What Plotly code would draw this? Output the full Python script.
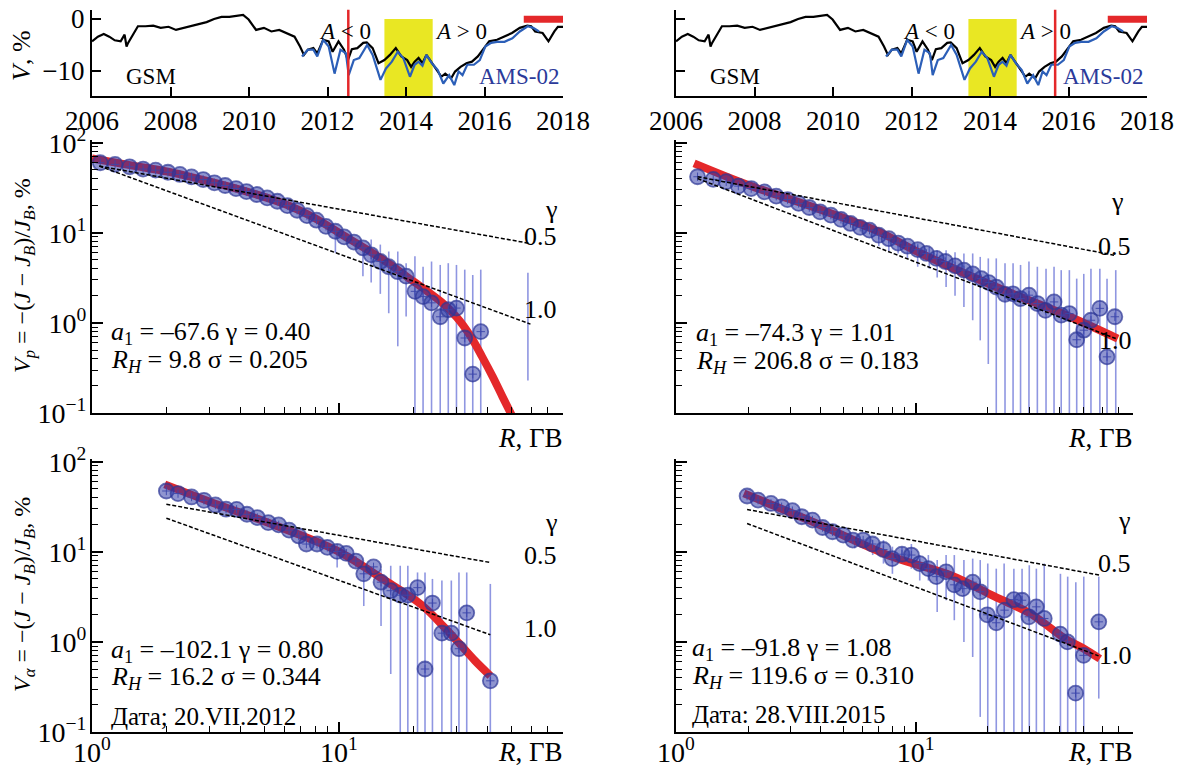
import plotly.graph_objects as go

# ---------------- time series (top row) ----------------
gsm_t = [2006.0, 2006.15, 2006.3, 2006.44, 2006.58, 2006.73, 2006.83, 2006.88, 2006.92, 2007.02,
         2007.17, 2007.36, 2007.56, 2007.75, 2007.95, 2008.14, 2008.34, 2008.53, 2008.72, 2008.92,
         2009.11, 2009.3, 2009.5, 2009.7, 2009.85, 2009.99, 2010.18, 2010.38, 2010.57, 2010.77,
         2010.96, 2011.16, 2011.3, 2011.4, 2011.5, 2011.64, 2011.74, 2011.89, 2012.03, 2012.13,
         2012.28, 2012.42, 2012.52, 2012.62, 2012.76, 2012.91, 2013.0, 2013.15, 2013.3, 2013.45,
         2013.59, 2013.74, 2013.88, 2014.03, 2014.13, 2014.22, 2014.32, 2014.42, 2014.52, 2014.61,
         2014.76, 2014.9, 2015.0, 2015.15, 2015.25, 2015.39, 2015.54, 2015.68, 2015.83, 2015.98,
         2016.12, 2016.32, 2016.51, 2016.7, 2016.9, 2017.09, 2017.19, 2017.29, 2017.48, 2017.63,
         2017.78, 2017.87, 2018.0]
gsm_v = [-4.3, -3.4, -2.9, -3.4, -4.1, -4.3, -3.0, -5.3, -4.6, -3.2,
         -1.4, -1.4, -1.3, -1.7, -1.5, -2.1, -1.7, -1.3, -0.9, -0.6,
         0.0, 0.4, 0.4, 0.6, 0.8, -0.1, -2.1, -1.7, -2.4, -2.1,
         -2.7, -3.4, -5.3, -6.9, -5.9, -5.6, -6.6, -4.0, -4.3, -6.3,
         -4.3, -5.9, -7.9, -5.8, -5.6, -4.6, -4.5, -5.6, -8.5, -7.9,
         -6.9, -5.6, -7.2, -7.9, -9.2, -8.2, -7.5, -8.5, -6.9, -7.9,
         -9.5, -11.1, -10.5, -11.4, -10.1, -9.2, -8.5, -8.2, -7.2, -5.6,
         -4.3, -4.0, -3.4, -2.7, -1.7, -1.3, -1.4, -2.4, -2.7, -4.3,
         -2.4, -1.5, -1.5]
ams_t = [2011.35, 2011.5, 2011.64, 2011.74, 2011.89, 2012.03, 2012.18, 2012.33, 2012.47, 2012.54,
         2012.67, 2012.81, 2013.01, 2013.15, 2013.35, 2013.49, 2013.64, 2013.79, 2013.93, 2014.1,
         2014.22, 2014.32, 2014.42, 2014.52, 2014.66, 2014.81, 2014.95, 2015.1, 2015.23, 2015.34,
         2015.44, 2015.56, 2015.73, 2015.88, 2016.02, 2016.17, 2016.32, 2016.51, 2016.71, 2016.9,
         2017.1, 2017.24, 2017.39]
ams_v = [-7.2, -5.9, -5.9, -7.2, -4.0, -5.3, -10.5, -5.9, -6.6, -10.8,
         -7.9, -7.5, -5.0, -6.9, -11.7, -9.5, -8.2, -6.3, -7.5, -11.1,
         -8.8, -8.2, -9.0, -6.9, -8.5, -9.8, -12.4, -10.8, -12.7, -10.1,
         -10.8, -8.8, -8.8, -7.9, -5.3, -4.6, -4.4, -4.4, -3.7, -2.4,
         -1.4, -1.7, -2.4]
year_ticks = [2006, 2008, 2010, 2012, 2014, 2016, 2018]
yellow_band = [2013.45, 2014.68]
red_bar = [2017.0, 2018.0]
event_dates = [2012.53, 2015.66]

# ---------------- protons, 20.VII.2012 ----------------
p12_R = [1.08, 1.24, 1.42, 1.61, 1.81, 2.03, 2.27, 2.53, 2.82, 3.13, 3.46, 3.83, 4.22, 4.65, 5.12,
         5.63, 6.18, 6.77, 7.42, 8.11, 8.86, 9.67, 10.5, 11.5, 12.5, 13.5, 14.7, 15.9, 17.3, 18.7,
         20.3, 21.9, 23.7, 25.7, 27.7, 29.9, 32.3, 34.8, 37.5]
p12_V = [59.9, 57.4, 54.0, 51.0, 49.6, 47.0, 44.4, 41.7, 39.0, 35.9, 33.5, 31.0, 28.7, 26.6, 24.4,
         22.4, 20.0, 17.8, 15.5, 13.8, 11.8, 10.4, 9.0, 7.9, 6.8, 5.7, 4.8, 4.2, 3.7, 3.3,
         2.24, 1.96, 1.67, 1.17, 1.40, 1.46, 0.68, 0.27, 0.80]
p12_eb_R = [9.67, 12.5, 13.5, 14.7, 15.9, 17.3, 18.7, 20.3, 21.9, 23.7, 25.7, 27.7, 29.9, 32.3, 34.8, 37.5, 58.2]
p12_eb_lo = [6.0, 3.3, 2.8, 2.1, 1.28, 0.55, 1.18, 0.01, 0.01, 0.01, 0.01, 0.01, 0.01, 0.01, 0.01, 0.01, 0.23]
p12_eb_hi = [11.8, 7.7, 8.4, 7.4, 6.2, 6.2, 4.6, 5.5, 4.2, 4.8, 4.4, 4.6, 4.4, 3.9, 3.4, 3.9, 3.6]
p12_fit_R = [1.0, 1.5, 2, 3, 4, 6, 8, 10, 13, 16, 19, 22, 26, 30, 34, 38, 42, 46, 50]
p12_fit_V = [67, 55, 48, 37, 30, 21, 14.5, 10, 6.5, 4.5, 3.2, 2.4, 1.7, 1.15, 0.72, 0.42, 0.25, 0.15, 0.095]
p12_g05_R, p12_g05_V = [1.07, 59.6], [55, 7.6]
p12_g10_R, p12_g10_V = [1.07, 59.6], [55, 0.97]

# ---------------- protons, 28.VIII.2015 ----------------
p15_R = [1.23, 1.43, 1.62, 1.82, 2.06, 2.34, 2.62, 2.92, 3.25, 3.6, 3.99, 4.43, 4.88, 5.35, 5.87,
         6.42, 7.02, 7.73, 8.45, 9.24, 10.2, 11.1, 12.2, 13.3, 14.6, 15.9, 17.3, 18.8, 20.2, 21.7,
         23.6, 25.5, 27.4, 29.7, 32.2, 34.8, 37.8, 40.5, 43.8, 47.0, 50.3, 53.9, 58.7, 62.9, 67.8]
p15_V = [41.9, 39.2, 36.9, 33.0, 31.0, 28.5, 25.5, 23.4, 21.2, 19.1, 17.1, 15.7, 14.1, 12.7, 11.5,
         10.7, 9.4, 8.6, 7.7, 7.1, 6.5, 5.9, 5.2, 4.8, 4.3, 3.85, 3.5, 3.1, 2.8, 2.5,
         2.08, 2.1, 1.86, 2.03, 1.64, 1.38, 1.71, 1.22, 1.27, 0.65, 0.83, 1.07, 1.45, 0.42, 1.17]
p15_eb_R = [7.02, 7.73, 8.45, 9.24, 10.2, 11.4, 12.3, 13.4, 14.6, 15.9, 17.3, 18.6, 20.1, 21.7, 23.6,
            25.5, 27.4, 29.7, 32.2, 35.0, 37.8, 40.5, 43.8, 47.0, 50.3, 53.9, 58.7, 62.9, 68.4]
p15_eb_lo = [7.1, 6.2, 5.9, 5.2, 4.2, 4.0, 3.2, 2.5, 2.0, 1.5, 1.07, 0.64, 0.35, 0.01, 0.01,
             0.01, 0.01, 0.01, 0.01, 0.01, 0.01, 0.01, 0.01, 0.01, 0.01, 0.01, 0.01, 0.01, 0.01]
p15_eb_hi = [9.2, 8.9, 8.3, 7.9, 7.6, 7.0, 6.4, 6.4, 6.1, 5.9, 5.9, 5.4, 5.2, 5.2, 4.6,
             4.6, 4.4, 4.8, 4.2, 4.0, 4.2, 3.85, 3.85, 3.1, 3.5, 4.0, 4.0, 3.1, 3.85]
p15_fit_R = [1.19, 2, 3.88, 7, 10, 21.7, 43, 69.7]
p15_fit_V = [59, 34, 18.6, 10.3, 6.3, 2.5, 1.2, 0.67]
p15_g05_R, p15_g05_V = [1.23, 67.3], [41.9, 5.65]
p15_g10_R, p15_g10_V = [1.23, 68.4], [40, 0.67]

# ---------------- alphas, 20.VII.2012 ----------------
a12_R = [2.0, 2.23, 2.53, 2.84, 3.16, 3.49, 3.85, 4.24, 4.67, 5.17, 5.7, 6.28, 6.87, 7.38, 8.15,
         8.97, 9.83, 10.7, 11.7, 12.6, 13.8, 14.8, 16.2, 17.7, 19.0, 20.8, 22.3, 23.9, 26.1, 28.5,
         30.6, 32.9, 41.0]
a12_V = [47.3, 44.3, 40.6, 37.3, 33.1, 29.7, 29.6, 26.1, 24.0, 21.1, 19.9, 17.4, 15.0, 12.2, 12.2,
         11.2, 10.1, 9.6, 7.9, 5.7, 6.8, 4.6, 3.7, 3.3, 3.3, 4.0, 0.5, 2.7, 1.25, 1.25,
         0.84, 2.1, 0.37]
a12_eb_R = [9.83, 10.7, 11.7, 12.6, 14.8, 16.2, 17.7, 19.0, 20.8, 22.3, 23.9, 26.1, 28.5, 30.6, 32.9, 41.0]
a12_eb_lo = [6.7, 8.7, 6.7, 2.5, 1.5, 0.44, 0.01, 0.01, 0.01, 0.01, 0.01, 0.01, 0.01, 0.01, 0.01, 0.01]
a12_eb_hi = [12.2, 10.7, 9.0, 6.4, 6.4, 7.0, 7.0, 7.0, 5.9, 5.9, 5.0, 4.8, 4.8, 5.9, 5.9, 4.4]
a12_fit_R = [1.97, 3, 5.17, 9.8, 15, 21.5, 26.7, 30.8, 35.5, 41]
a12_fit_V = [56, 36, 21, 10.3, 5.0, 2.6, 1.45, 0.95, 0.62, 0.42]
a12_g05_R, a12_g05_V = [2.0, 41.0], [33.7, 7.6]
a12_g10_R, a12_g10_V = [2.0, 41.0], [23.6, 1.2]

# ---------------- alphas, 28.VIII.2015 ----------------
a15_R = [1.98, 2.2, 2.49, 2.76, 3.06, 3.35, 3.71, 4.09, 4.5, 4.99, 5.47, 6.04, 6.6, 7.33, 7.98,
         8.77, 9.6, 10.4, 11.3, 12.2, 13.4, 14.5, 15.7, 17.3, 18.6, 19.9, 21.7, 23.5, 25.7, 27.8,
         29.7, 31.9, 34.4, 40.1, 43.0, 46.5, 50.2, 58.1]
a15_V = [41.6, 37.5, 34.4, 31.6, 28.6, 24.5, 22.5, 18.6, 16.7, 15.3, 13.5, 13.5, 12.2, 10.6, 8.4,
         9.4, 9.2, 7.4, 6.5, 5.3, 6.0, 4.3, 3.9, 4.6, 3.6, 2.0, 1.63, 2.25, 2.95, 2.9,
         1.9, 2.45, 1.82, 1.22, 1.0, 0.27, 0.71, 1.67]
a15_eb_R = [5.57, 6.62, 7.34, 8.0, 8.77, 9.6, 10.4, 11.3, 12.3, 13.4, 14.5, 15.9, 17.3, 18.6, 20.0,
            21.7, 23.4, 25.7, 27.8, 29.8, 31.9, 34.4, 40.2, 43.1, 46.6, 50.3, 58.1]
a15_eb_lo = [10.9, 9.2, 7.4, 5.7, 7.7, 6.5, 4.8, 4.8, 2.15, 2.9, 1.74, 1.0, 0.68, 0.147, 0.01,
             0.01, 0.01, 0.01, 0.01, 0.01, 0.01, 0.01, 0.01, 0.01, 0.01, 0.01, 0.235]
a15_eb_hi = [14.7, 13.5, 13.5, 11.4, 11.4, 12.2, 9.2, 9.2, 8.1, 9.2, 9.2, 8.1, 8.4, 8.1, 7.4,
             6.5, 7.4, 6.5, 6.5, 7.1, 6.5, 7.4, 5.7, 5.3, 4.6, 5.3, 5.3]
a15_fit_R = [1.92, 4, 8, 14, 21.3, 30, 42, 50, 58.7]
a15_fit_V = [44.5, 19.8, 8.8, 5.5, 3.2, 2.07, 1.09, 0.85, 0.65]
a15_g05_R, a15_g05_V = [1.98, 58.7], [29.5, 5.5]
a15_g10_R, a15_g10_V = [1.98, 58.0], [20.6, 0.7]

fit_texts = [
    ("<i>a</i><sub>1</sub> = –67.6 γ = 0.40", "<i>R<sub>H</sub></i> = 9.8 σ = 0.205", None),
    ("<i>a</i><sub>1</sub> = –74.3 γ = 1.01", "<i>R<sub>H</sub></i> = 206.8 σ = 0.183", None),
    ("<i>a</i><sub>1</sub> = –102.1 γ = 0.80", "<i>R<sub>H</sub></i> = 16.2 σ = 0.344", "Дата; 20.VII.2012"),
    ("<i>a</i><sub>1</sub> = –91.8 γ = 1.08", "<i>R<sub>H</sub></i> = 119.6 σ = 0.310", "Дата: 28.VIII.2015"),
]

# ---------------- styling / layout ----------------
W, H = 1180, 769
FONT = "Liberation Serif"
RED = "#e4282a"
BLUE_LINE = "#2c5fb8"
TEXT_BLUE = "#2b3a9a"
TXT = 26       # in-panel text
TICK = 28      # log tick labels
YEAR = 27      # year tick labels


def xd(a, b):
    return [a / W, b / W]


def yd(top, bottom):
    return [1 - bottom / H, 1 - top / H]


fig = go.Figure()

# top row panels
for k, (xa, ya) in enumerate([("x", "y"), ("x2", "y2")]):
    fig.add_trace(go.Scatter(x=gsm_t, y=gsm_v, mode="lines", line=dict(color="black", width=2.2),
                             xaxis=xa, yaxis=ya, showlegend=False))
    fig.add_trace(go.Scatter(x=ams_t, y=ams_v, mode="lines", line=dict(color=BLUE_LINE, width=2.2),
                             xaxis=xa, yaxis=ya, showlegend=False))
    fig.add_shape(type="rect", xref=xa, yref=ya, x0=yellow_band[0], x1=yellow_band[1], y0=-14.8, y1=0,
                  fillcolor="#e9e723", line_width=0, layer="below")
    fig.add_shape(type="rect", xref=xa, yref=ya, x0=red_bar[0], x1=red_bar[1], y0=-0.75, y1=0.6,
                  fillcolor=RED, line_width=0, layer="above")
    fig.add_shape(type="line", xref=xa, yref=ya, x0=event_dates[k], x1=event_dates[k], y0=-14.8, y1=1.8,
                  line=dict(color=RED, width=2.5), layer="above")
    fig.add_annotation(xref=xa, yref=ya, x=2007.5, y=-11, text="GSM", showarrow=False,
                       font=dict(family=FONT, size=23, color="black"))
    fig.add_annotation(xref=xa, yref=ya, x=2016.9, y=-11, text="AMS-02", showarrow=False,
                       font=dict(family=FONT, size=23, color=TEXT_BLUE))
    fig.add_annotation(xref=xa, yref=ya, x=2012.45, y=-2.5, text="<i>A</i> &lt; 0", showarrow=False,
                       font=dict(family=FONT, size=23, color="black"))
    fig.add_annotation(xref=xa, yref=ya, x=2015.4, y=-2.5, text="<i>A</i> &gt; 0", showarrow=False,
                       font=dict(family=FONT, size=23, color="black"))

panels = [
    ("x3", "y3", p12_R, p12_V, p12_eb_R, p12_eb_lo, p12_eb_hi, p12_fit_R, p12_fit_V,
     p12_g05_R, p12_g05_V, p12_g10_R, p12_g10_V, 0.07, -0.115, [(1.86, 1.258), (1.814, 0.96), (1.814, 0.145)]),
    ("x4", "y4", p15_R, p15_V, p15_eb_R, p15_eb_lo, p15_eb_hi, p15_fit_R, p15_fit_V,
     p15_g05_R, p15_g05_V, p15_g10_R, p15_g10_V, 0.075, -0.119, [(1.843, 1.344), (1.828, 0.844), (1.836, -0.19)]),
    ("x5", "y5", a12_R, a12_V, a12_eb_R, a12_eb_lo, a12_eb_hi, a12_fit_R, a12_fit_V,
     a12_g05_R, a12_g05_V, a12_g10_R, a12_g10_V, 0.07, -0.096, [(1.86, 1.325), (1.814, 0.956), (1.814, 0.144)]),
    ("x6", "y6", a15_R, a15_V, a15_eb_R, a15_eb_lo, a15_eb_hi, a15_fit_R, a15_fit_V,
     a15_g05_R, a15_g05_V, a15_g10_R, a15_g10_V, 0.06, -0.074, [(1.873, 1.352), (1.828, 0.87), (1.836, -0.148)]),
]

for i, (xa, ya, R, V, ebR, eblo, ebhi, fR, fV, g5R, g5V, g1R, g1V, tx, ty, glab) in enumerate(panels):
    sx, sy = [], []
    for r, lo, hi in zip(ebR, eblo, ebhi):
        sx += [r, r, None]
        sy += [lo, hi, None]
    fig.add_trace(go.Scatter(x=sx, y=sy, mode="lines", line=dict(color="rgba(105,115,215,0.75)", width=1.6),
                             xaxis=xa, yaxis=ya, showlegend=False))
    fig.add_trace(go.Scatter(x=fR, y=fV, mode="lines", line=dict(color=RED, width=8, shape="spline"),
                             xaxis=xa, yaxis=ya, showlegend=False))
    fig.add_trace(go.Scatter(x=R, y=V, mode="markers",
                             marker=dict(symbol="circle", size=15, color="rgba(40,52,165,0.52)",
                                         line=dict(color="rgba(45,55,150,0.7)", width=1.8)),
                             xaxis=xa, yaxis=ya, showlegend=False))
    fig.add_trace(go.Scatter(x=R, y=V, mode="markers",
                             marker=dict(symbol="cross-thin", size=6,
                                         line=dict(color="rgba(60,70,170,0.9)", width=1)),
                             xaxis=xa, yaxis=ya, showlegend=False))
    for gR, gV in ((g5R, g5V), (g1R, g1V)):
        fig.add_trace(go.Scatter(x=gR, y=gV, mode="lines", line=dict(color="black", width=1.5, dash="4px,2px"),
                                 xaxis=xa, yaxis=ya, showlegend=False))
    t1, t2, t3 = fit_texts[i]
    fig.add_annotation(xref=xa, yref=ya, x=tx, y=ty, text=t1, showarrow=False, xanchor="left",
                       font=dict(family=FONT, size=TXT, color="black"))
    fig.add_annotation(xref=xa, yref=ya, x=tx, y=ty - 0.31, text=t2, showarrow=False, xanchor="left",
                       font=dict(family=FONT, size=TXT, color="black"))
    if t3:
        fig.add_annotation(xref=xa, yref=ya, x=tx, y=ty - 0.73, text=t3, showarrow=False, xanchor="left",
                           font=dict(family=FONT, size=TXT - 1, color="black"))
    for (lx, ly), lt in zip(glab, ["γ", "0.5", "1.0"]):
        fig.add_annotation(xref=xa, yref=ya, x=lx, y=ly, text=lt, showarrow=False,
                           font=dict(family=FONT, size=TXT, color="black"))

# axis titles / labels
for xr, yc in [(565, 438), (1135, 438), (565, 752), (1135, 752)]:
    fig.add_annotation(xref="paper", yref="paper", x=xr / W, y=1 - yc / H, text="<i>R</i>, ГВ",
                       showarrow=False, xanchor="right", yanchor="middle",
                       font=dict(family=FONT, size=27, color="black"))
fig.add_annotation(xref="paper", yref="paper", x=22 / W, y=1 - 56 / H, text="<i>V</i>, %", textangle=-90,
                   xanchor="center", yanchor="middle",
                   showarrow=False, font=dict(family=FONT, size=26, color="black"))
fig.add_annotation(xref="paper", yref="paper", x=24 / W, y=1 - 276 / H,
                   text="<i>V<sub>p</sub></i> = −(<i>J</i> − <i>J<sub>B</sub></i>)/<i>J<sub>B</sub></i>, %",
                   textangle=-90, xanchor="center", yanchor="middle",
                   showarrow=False, font=dict(family=FONT, size=24, color="black"))
fig.add_annotation(xref="paper", yref="paper", x=24 / W, y=1 - 595 / H,
                   text="<i>V<sub>α</sub></i> = −(<i>J</i> − <i>J<sub>B</sub></i>)/<i>J<sub>B</sub></i>, %",
                   textangle=-90, xanchor="center", yanchor="middle",
                   showarrow=False, font=dict(family=FONT, size=24, color="black"))

axis_common = dict(showline=True, linecolor="black", linewidth=2, ticks="inside", tickcolor="black",
                   tickwidth=1.5, showgrid=False, zeroline=False, mirror=False, automargin=False,
                   tickfont=dict(family=FONT, size=TICK, color="black"))

top_x = dict(axis_common, range=[2006, 2018], tickvals=year_ticks, ticklen=9, ticklabelstandoff=0,
             tickfont=dict(family=FONT, size=YEAR, color="black"))
top_y = dict(axis_common, range=[-14.8, 1.8], tickvals=[0, -10], ticktext=["0", "−10"], ticklen=9,
             tickfont=dict(family=FONT, size=YEAR, color="black"))

dec_vals = [0.1, 1, 10, 100]
dec_text = ["10<sup>−1</sup>", "10<sup>0</sup>", "10<sup>1</sup>", "10<sup>2</sup>"]
minor_x = [2, 3, 4, 5, 6, 7, 8, 9, 20, 30, 40, 50, 60, 70, 80]
minor_y = [0.2, 0.3, 0.4, 0.5, 0.6, 0.7, 0.8, 0.9, 2, 3, 4, 5, 6, 7, 8, 9, 20, 30, 40, 50, 60, 70, 80, 90]


def log_x(show):
    return dict(axis_common, type="log", range=[0, 1.907], tickvals=[1, 10], ticktext=dec_text[1:3],
                ticklen=10, showticklabels=show, ticklabelstandoff=-6,
                minor=dict(tickvals=minor_x, ticks="inside", ticklen=6, tickcolor="black", tickwidth=1.3))


def log_y(show):
    return dict(axis_common, type="log", range=[-1, 2.03], tickvals=dec_vals, ticktext=dec_text,
                ticklen=11, showticklabels=show, ticklabelstandoff=-2,
                minor=dict(tickvals=minor_y, ticks="inside", ticklen=6, tickcolor="black", tickwidth=1.3))


fig.update_layout(
    width=W, height=H, margin=dict(l=0, r=0, t=0, b=0, autoexpand=False),
    font=dict(family=FONT, size=24, color="black"),
    paper_bgcolor="white", plot_bgcolor="rgba(0,0,0,0)", showlegend=False,
    xaxis=dict(top_x, domain=xd(92, 563), anchor="y"),
    yaxis=dict(top_y, domain=yd(9.6, 96), anchor="x"),
    xaxis2=dict(top_x, domain=xd(676, 1147), anchor="y2"),
    yaxis2=dict(top_y, domain=yd(9.6, 96), anchor="x2", showticklabels=False),
    xaxis3=dict(log_x(False), domain=xd(92, 563), anchor="y3"),
    yaxis3=dict(log_y(True), domain=yd(140, 413), anchor="x3"),
    xaxis4=dict(log_x(False), domain=xd(676, 1133), anchor="y4"),
    yaxis4=dict(log_y(False), domain=yd(140, 413), anchor="x4"),
    xaxis5=dict(log_x(True), domain=xd(92, 563), anchor="y5"),
    yaxis5=dict(log_y(True), domain=yd(459, 732), anchor="x5"),
    xaxis6=dict(log_x(True), domain=xd(676, 1133), anchor="y6"),
    yaxis6=dict(log_y(False), domain=yd(459, 732), anchor="x6"),
)

fig.write_html("out.html", config={"displayModeBar": False},
               post_script="document.body.style.margin='0';document.body.style.padding='0';")
